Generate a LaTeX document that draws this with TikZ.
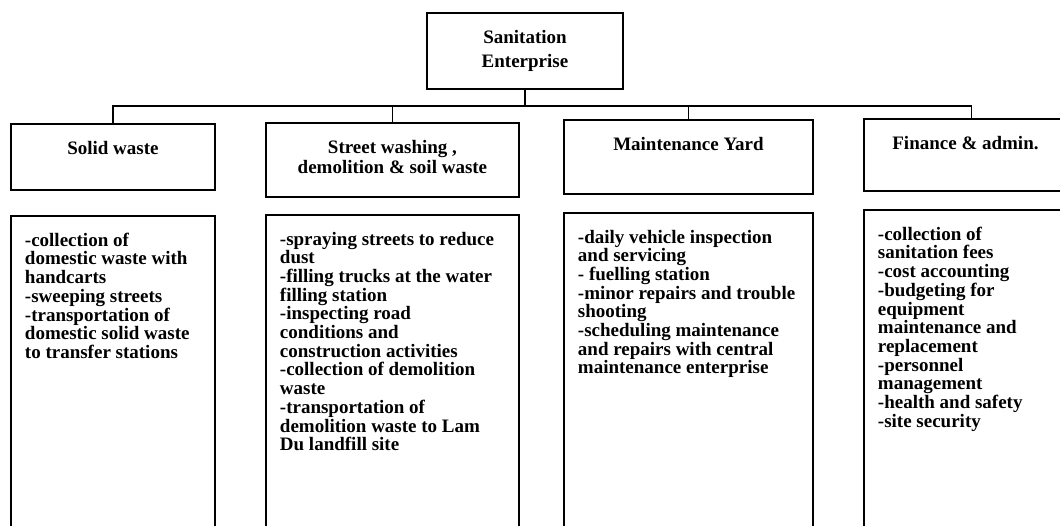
\documentclass[tikz,border=0pt]{standalone}
\usepackage{fontspec}
\setmainfont{Liberation Serif}
\usetikzlibrary{positioning}
\newcommand{\boxcell}[3]{\parbox[t][#2][t]{#1}{#3}}

\begin{document}
\begin{tikzpicture}[x=1pt, y=-1pt,
  font=\fontsize{19}{18.7}\selectfont\bfseries,
  frame/.style={draw, line width=1.9pt, inner xsep=14pt, inner ysep=17pt, anchor=north west},
  chief/.style={draw, line width=1.9pt, minimum width=196pt, minimum height=76pt, align=center},
  link/.style={line width=1.9pt}]

  \useasboundingbox (0,0) rectangle (1060,526);
  \clip (0,0) rectangle (1060,526);

  % Enterprise
  \node[chief] (top) at (525,51) {Sanitation\\[6pt]Enterprise} ; %

  % Departments
  \node[frame] (solid)  at (10,123)  {\boxcell{176pt}{32pt}{\centering Solid waste}} ; %
  \node[frame] (street) at (265,122) {\boxcell{225pt}{40pt}{\centering Street washing ,\\[2pt] demolition \& soil waste}} ; %
  \node[frame] (yard)   at (563,119) {\boxcell{221pt}{40pt}{\centering Maintenance Yard}} ; %
  \node[frame] (admin)  at (863,118) {\boxcell{175pt}{38pt}{\centering Finance \& admin.}} ; %

  % Duties
  \node[frame, below right=24pt and 0pt of solid.south west] (solid-l) {\boxcell{176pt}{300pt}{\raggedright
    -collection of\\ domestic waste with\\ handcarts\\ -sweeping streets\\
    -transportation of\\ domestic solid waste\\ to transfer stations}} ; %
  \node[frame, below right=16pt and 0pt of street.south west] (street-l) {\boxcell{225pt}{300pt}{\raggedright
    -spraying streets to reduce\\ dust\\ -filling trucks at the water\\ filling station\\
    -inspecting road\\ conditions and\\ construction activities\\ -collection of demolition\\
    waste\\ -transportation of\\ demolition waste to Lam\\ Du landfill site}} ; %
  \node[frame, below right=17pt and 0pt of yard.south west] (yard-l) {\boxcell{221pt}{300pt}{\raggedright
    -daily vehicle inspection\\ and servicing\\ - fuelling station\\ -minor repairs and trouble\\
    shooting\\ -scheduling maintenance\\ and repairs with central\\ maintenance enterprise}} ; %
  \node[frame, below right=17pt and 0pt of admin.south west] (admin-l) {\boxcell{175pt}{300pt}{\raggedright
    -collection of\\ sanitation fees\\ -cost accounting\\ -budgeting for\\ equipment\\
    maintenance and\\ replacement\\ -personnel\\ management\\ -health and safety\\ -site security}} ; %

  % Connect enterprise to departments
  \draw[link] (top.south) -- ++(0,16) coordinate (bus) ; %
  \foreach \dept in {solid,street,yard}
    \draw[link] (bus) -| (\dept.north) ; %
  \draw[link] (bus) -| ([xshift=6pt]admin.north) ; %

\end{tikzpicture}
\end{document}
